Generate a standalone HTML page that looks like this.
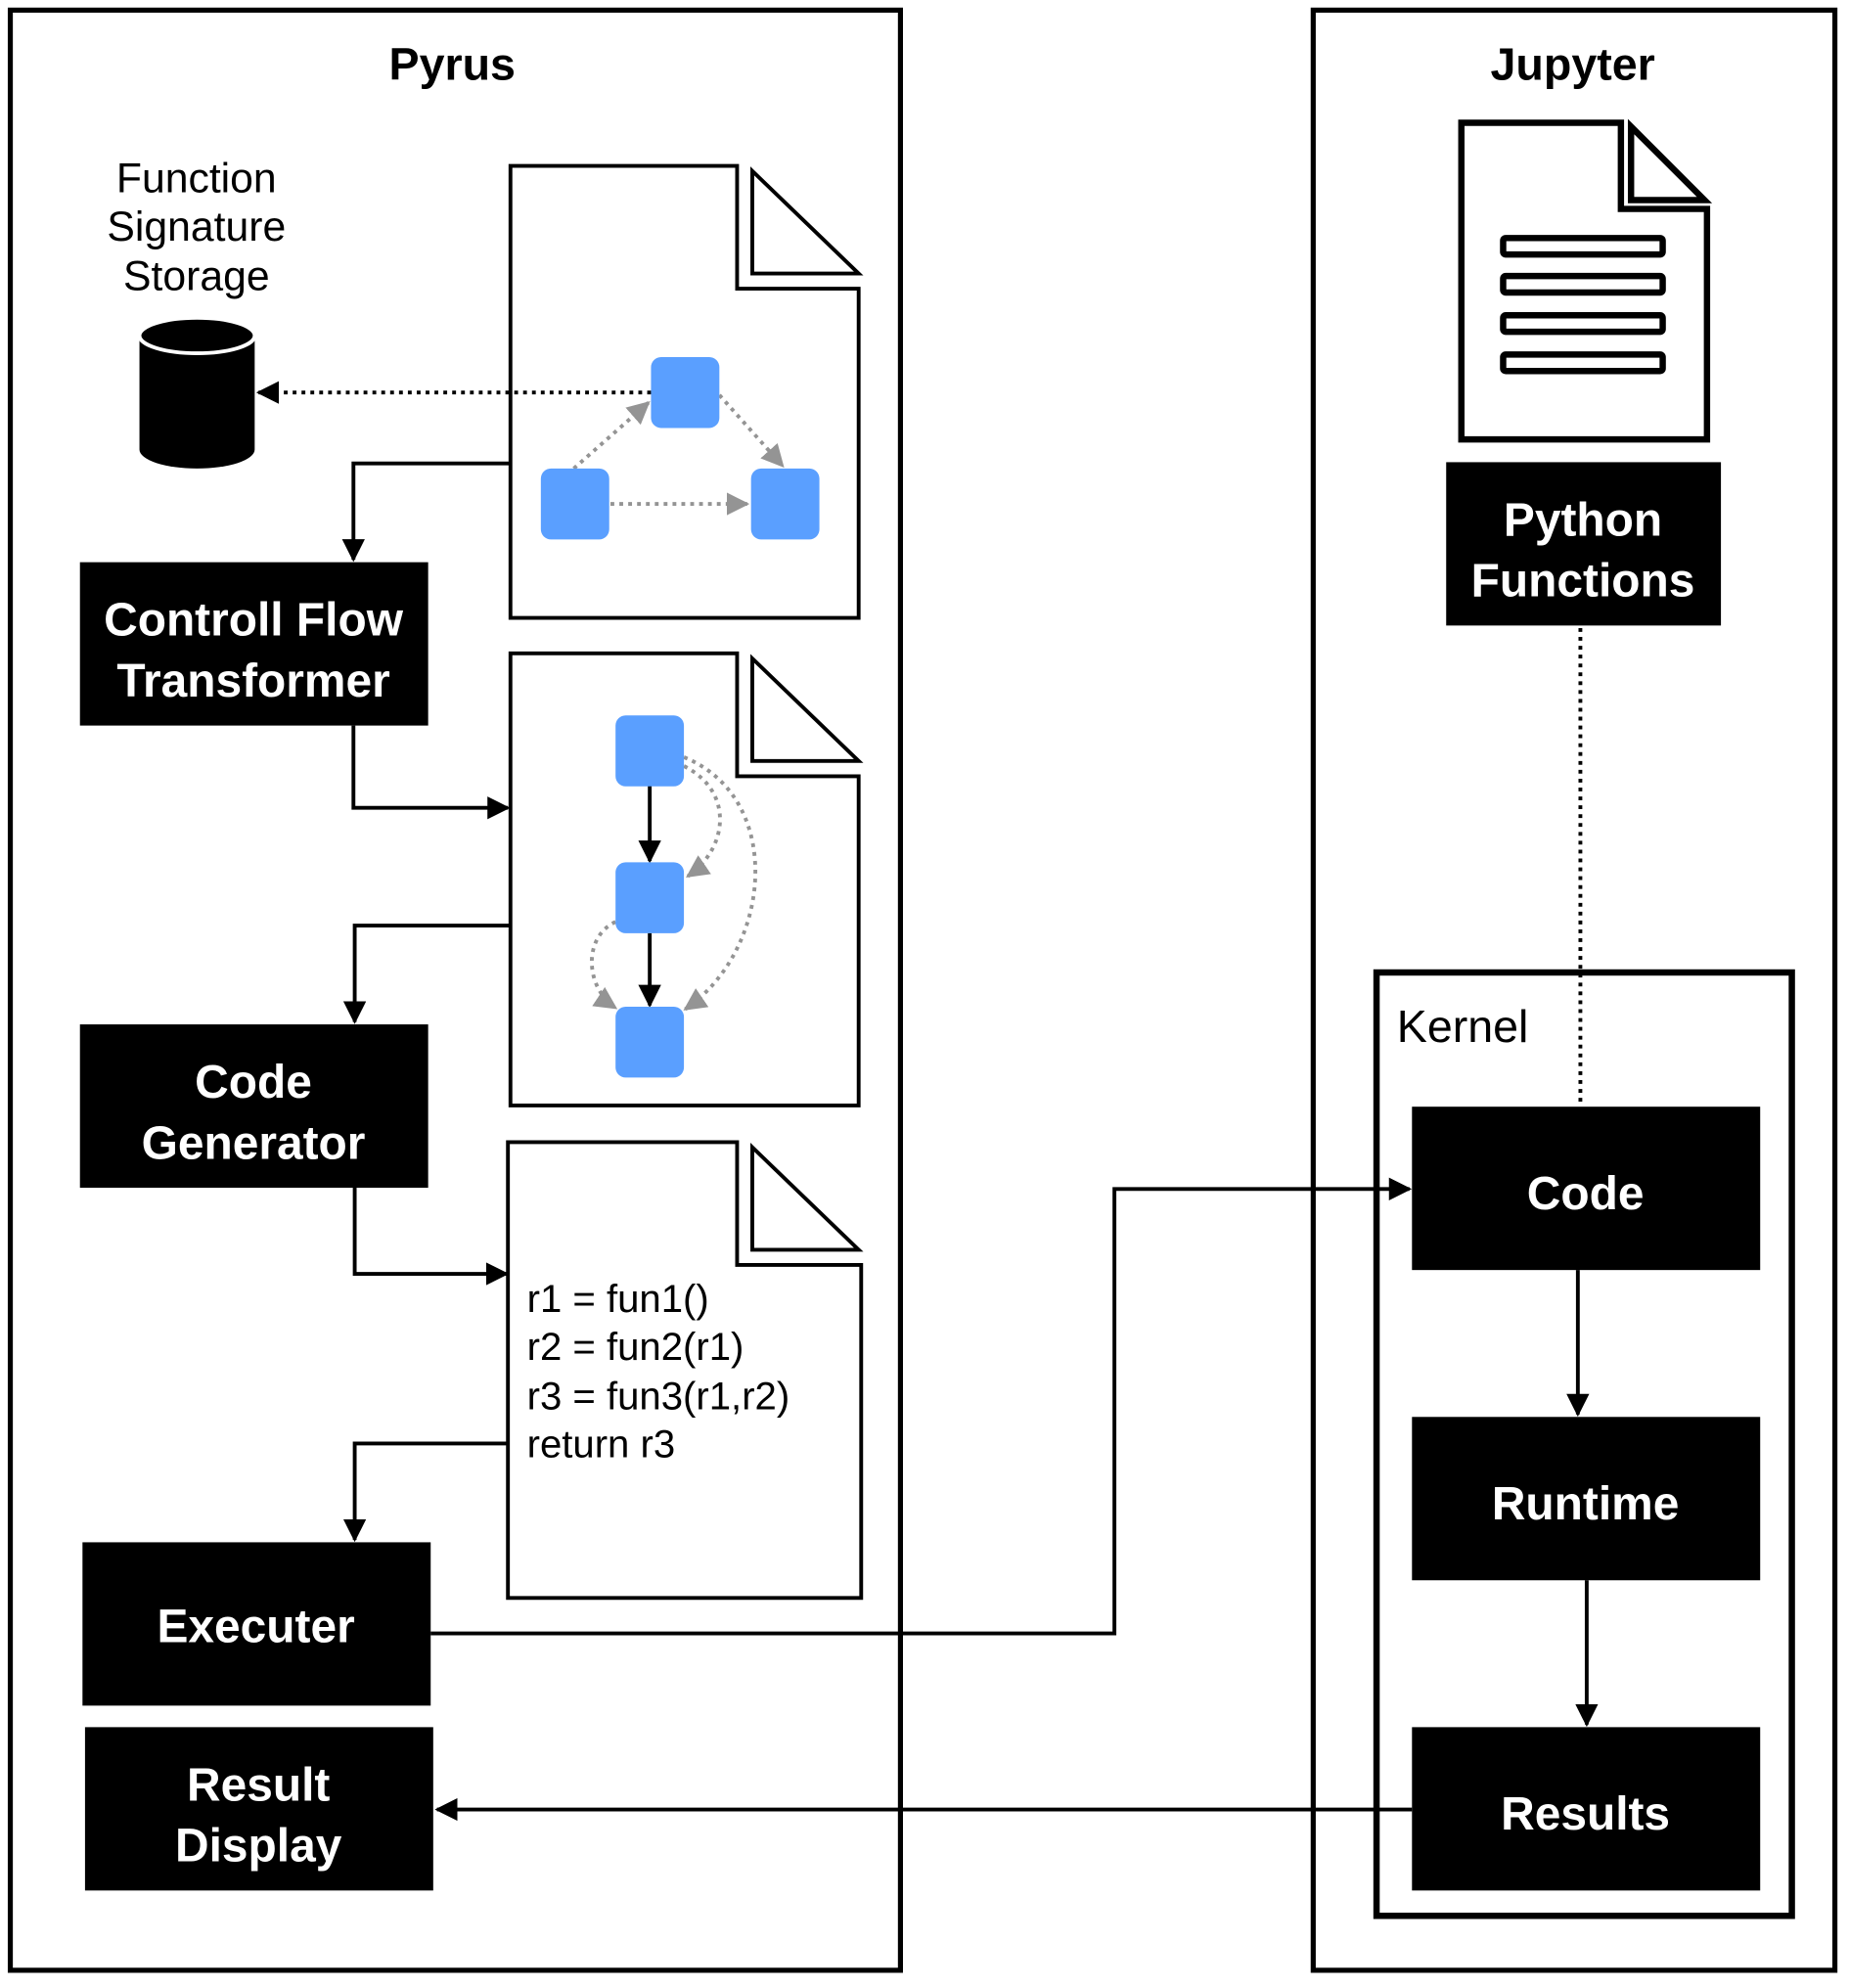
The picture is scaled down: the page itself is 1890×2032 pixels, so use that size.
<!DOCTYPE html>
<html><head><meta charset="utf-8"><style>
html,body{margin:0;padding:0;background:#fff;}
svg{display:block;}
text{font-family:"Liberation Sans",Arial,sans-serif;}
.bt{fill:#fff;font-size:37px;font-weight:bold;text-anchor:middle;}
</style></head><body>
<svg width="1890" height="2032" viewBox="0 0 1460 1570" xmlns="http://www.w3.org/2000/svg">
<defs>
<marker id="ab" viewBox="0 0 10 10" refX="9" refY="5" markerWidth="6" markerHeight="6" orient="auto"><path d="M0,0L10,5L0,10z" fill="#000"/></marker>
<marker id="ag" viewBox="0 0 10 10" refX="9" refY="5" markerWidth="6" markerHeight="6" orient="auto"><path d="M0,0L10,5L0,10z" fill="#949494"/></marker>
</defs>
<rect width="1460" height="1570" fill="#fff"/>
<!-- containers -->
<rect x="8" y="8" width="703" height="1548" fill="none" stroke="#000" stroke-width="4"/>
<rect x="1037" y="8" width="412" height="1548" fill="none" stroke="#000" stroke-width="4"/>
<text x="357" y="63" font-size="36" font-weight="bold" text-anchor="middle">Pyrus</text>
<text x="1242" y="63" font-size="36" font-weight="bold" text-anchor="middle">Jupyter</text>

<!-- storage -->
<g font-size="33" text-anchor="middle">
<text x="155" y="152">Function</text>
<text x="155" y="190">Signature</text>
<text x="155" y="229">Storage</text>
</g>
<path d="M110,265 L110,355 A45.5,15 0 0 0 201,355 L201,265 Z" fill="#000"/>
<ellipse cx="155.5" cy="265" rx="45.5" ry="14" fill="#000" stroke="#fff" stroke-width="3"/>

<!-- docs -->
<g fill="#fff" stroke="#000" stroke-width="3">
<path d="M403,131 L582,131 L582,228 L678,228 L678,488 L403,488 Z"/>
<path d="M594,135 L678,216 L594,216 Z"/>
<path d="M403,516 L582,516 L582,613 L678,613 L678,873 L403,873 Z"/>
<path d="M594,520 L678,601 L594,601 Z"/>
<path d="M401,902 L582,902 L582,999 L680,999 L680,1262 L401,1262 Z"/>
<path d="M594,906 L678,987 L594,987 Z"/>
</g>

<!-- doc1 graph -->
<g stroke="#949494" stroke-width="3" stroke-dasharray="3,4" fill="none">
<line x1="453" y1="370" x2="512" y2="318" marker-end="url(#ag)"/>
<line x1="568" y1="312" x2="618" y2="368" marker-end="url(#ag)"/>
<line x1="482" y1="398" x2="590" y2="398" marker-end="url(#ag)"/>
</g>
<line x1="514" y1="310" x2="204" y2="310" stroke="#000" stroke-width="3" stroke-dasharray="3,4" marker-end="url(#ab)"/>
<g fill="#5a9fff">
<rect x="514" y="282" width="54" height="56" rx="8"/>
<rect x="427" y="370" width="54" height="56" rx="8"/>
<rect x="593" y="370" width="54" height="56" rx="8"/>
</g>

<!-- doc2 graph -->
<g stroke="#949494" stroke-width="3" stroke-dasharray="3,4" fill="none">
<path d="M540,605 C580,625 575,670 543,692" marker-end="url(#ag)"/>
<path d="M540,598 C620,630 610,750 541,797" marker-end="url(#ag)"/>
<path d="M486,728 C460,740 462,780 486,796" marker-end="url(#ag)"/>
</g>
<g stroke="#000" stroke-width="3" fill="none">
<line x1="513" y1="620" x2="513" y2="680" marker-end="url(#ab)"/>
<line x1="513" y1="737" x2="513" y2="794" marker-end="url(#ab)"/>
</g>
<g fill="#5a9fff">
<rect x="486" y="565" width="54" height="56" rx="8"/>
<rect x="486" y="681" width="54" height="56" rx="8"/>
<rect x="486" y="795" width="54" height="56" rx="8"/>
</g>

<!-- code text -->
<g font-size="31">
<text x="416" y="1036">r1 = fun1()</text>
<text x="416" y="1074">r2 = fun2(r1)</text>
<text x="416" y="1113">r3 = fun3(r1,r2)</text>
<text x="416" y="1151">return r3</text>
</g>

<!-- connectors -->
<g stroke="#000" stroke-width="3" fill="none">
<polyline points="403,366 279,366 279,442" marker-end="url(#ab)"/>
<polyline points="279,573 279,638 401,638" marker-end="url(#ab)"/>
<polyline points="403,731 280,731 280,807" marker-end="url(#ab)"/>
<polyline points="280,938 280,1006 400,1006" marker-end="url(#ab)"/>
<polyline points="401,1140 280,1140 280,1216" marker-end="url(#ab)"/>
<polyline points="340,1290 880,1290 880,939 1113,939" marker-end="url(#ab)"/>
<line x1="1115" y1="1429" x2="345" y2="1429" marker-end="url(#ab)"/>
<line x1="1246" y1="1003" x2="1246" y2="1117" marker-end="url(#ab)"/>
<line x1="1253" y1="1248" x2="1253" y2="1362" marker-end="url(#ab)"/>
</g>
<line x1="1248" y1="496" x2="1248" y2="870" stroke="#000" stroke-width="3" stroke-dasharray="3,4"/>

<!-- pyrus boxes -->
<rect x="63" y="444" width="275" height="129" fill="#000"/>
<text class="bt" x="200" y="502">Controll Flow</text>
<text class="bt" x="200" y="550">Transformer</text>
<rect x="63" y="809" width="275" height="129" fill="#000"/>
<text class="bt" x="200" y="867">Code</text>
<text class="bt" x="200" y="915">Generator</text>
<rect x="65" y="1218" width="275" height="129" fill="#000"/>
<text class="bt" x="202" y="1297">Executer</text>
<rect x="67" y="1364" width="275" height="129" fill="#000"/>
<text class="bt" x="204" y="1422">Result</text>
<text class="bt" x="204" y="1470">Display</text>

<!-- jupyter doc -->
<path d="M1154,97 L1280,97 L1280,165 L1348,165 L1348,347 L1154,347 Z" fill="#fff" stroke="#000" stroke-width="5"/>
<path d="M1288,100 L1346,158 L1288,158 Z" fill="#fff" stroke="#000" stroke-width="5"/>
<g fill="none" stroke="#000" stroke-width="5">
<rect x="1187" y="188" width="126" height="13" rx="2"/>
<rect x="1187" y="218" width="126" height="13" rx="2"/>
<rect x="1187" y="249" width="126" height="13" rx="2"/>
<rect x="1187" y="280" width="126" height="13" rx="2"/>
</g>
<rect x="1142" y="365" width="217" height="129" fill="#000"/>
<text class="bt" x="1250" y="423">Python</text>
<text class="bt" x="1250" y="471">Functions</text>

<!-- kernel -->
<rect x="1087" y="768" width="328" height="745" fill="none" stroke="#000" stroke-width="5"/>
<text x="1103" y="823" font-size="36">Kernel</text>
<rect x="1115" y="874" width="275" height="129" fill="#000"/>
<text class="bt" x="1252" y="955">Code</text>
<rect x="1115" y="1119" width="275" height="129" fill="#000"/>
<text class="bt" x="1252" y="1200">Runtime</text>
<rect x="1115" y="1364" width="275" height="129" fill="#000"/>
<text class="bt" x="1252" y="1445">Results</text>
</svg>
</body></html>
